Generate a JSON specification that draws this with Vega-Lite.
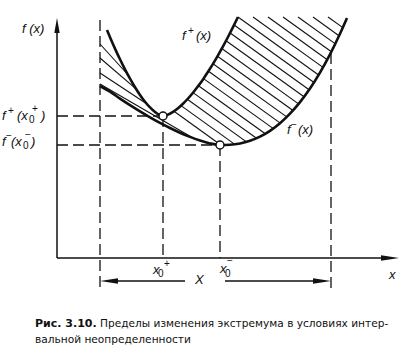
{
  "$schema": "https://vega.github.io/schema/vega-lite/v6.json",
  "width": 406,
  "height": 357,
  "padding": 0,
  "autosize": {"type": "none"},
  "background": "white",
  "config": {"view": {"stroke": null}},
  "encoding": {
    "x": {"field": "x", "type": "quantitative", "scale": {"domain": [-5.7, 34.9], "nice": false, "zero": false}, "axis": null},
    "y": {"field": "y", "type": "quantitative", "scale": {"domain": [-9.9, 25.8], "nice": false, "zero": false}, "axis": null}
  },
  "layer": [
    {
      "data": {"values": [
        {"x": 27.1, "y": 24.1, "x2": 28.55, "y2": 23.06},
        {"x": 25.6, "y": 24.1, "x2": 28.23, "y2": 22.2},
        {"x": 24.1, "y": 24.1, "x2": 27.84, "y2": 21.41},
        {"x": 22.6, "y": 24.1, "x2": 27.44, "y2": 20.62},
        {"x": 21.1, "y": 24.1, "x2": 27.03, "y2": 19.83},
        {"x": 19.6, "y": 24.1, "x2": 26.6, "y2": 19.06},
        {"x": 18.1, "y": 24.1, "x2": 26.16, "y2": 18.3},
        {"x": 17.71, "y": 23.3, "x2": 25.7, "y2": 17.55},
        {"x": 17.32, "y": 22.5, "x2": 25.21, "y2": 16.82},
        {"x": 16.9, "y": 21.72, "x2": 24.7, "y2": 16.13},
        {"x": 16.48, "y": 20.95, "x2": 24.15, "y2": 15.41},
        {"x": 16.05, "y": 20.18, "x2": 23.6, "y2": 14.75},
        {"x": 15.6, "y": 19.42, "x2": 22.97, "y2": 14.11},
        {"x": 15.15, "y": 18.67, "x2": 22.33, "y2": 13.49},
        {"x": 14.65, "y": 17.94, "x2": 21.6, "y2": 12.96},
        {"x": 14.15, "y": 17.23, "x2": 20.83, "y2": 12.42},
        {"x": 13.6, "y": 16.54, "x2": 19.95, "y2": 11.97},
        {"x": 13.03, "y": 15.87, "x2": 18.95, "y2": 11.61},
        {"x": 12.4, "y": 15.24, "x2": 17.75, "y2": 11.39},
        {"x": 11.7, "y": 14.67, "x2": 16.38, "y2": 11.3},
        {"x": 4.3, "y": 17.4, "x2": 13.6, "y2": 12.0},
        {"x": 4.3, "y": 18.5, "x2": 9.0, "y2": 15.4},
        {"x": 4.3, "y": 20.0, "x2": 7.9, "y2": 16.91},
        {"x": 4.3, "y": 21.4, "x2": 7.25, "y2": 18.15}
      ]},
      "mark": {"type": "rule", "color": "#111", "strokeWidth": 1.1},
      "encoding": {"x2": {"field": "x2"}, "y2": {"field": "y2"}}
    },
    {
      "data": {"values": [
        {"x": 4.3, "y": 23.8, "x2": 4.3, "y2": -3.0},
        {"x": 10.6, "y": 14.2, "x2": 10.6, "y2": 0},
        {"x": 16.3, "y": 11.3, "x2": 16.3, "y2": 0},
        {"x": 27.4, "y": 20.5, "x2": 27.4, "y2": -3.5},
        {"x": 0, "y": 14.2, "x2": 10.6, "y2": 14.2},
        {"x": 0, "y": 11.3, "x2": 16.3, "y2": 11.3}
      ]},
      "mark": {"type": "rule", "color": "#111", "strokeWidth": 1.3, "strokeDash": [11, 5]},
      "encoding": {"x2": {"field": "x2"}, "y2": {"field": "y2"}}
    },
    {
      "data": {"values": [
        {"x": 0, "y": 0, "x2": 0, "y2": 22.6},
        {"x": 0, "y": 0, "x2": 32.8, "y2": 0},
        {"x": 5.0, "y": -2.3, "x2": 12.8, "y2": -2.3},
        {"x": 16.8, "y": -2.3, "x2": 26.6, "y2": -2.3}
      ]},
      "mark": {"type": "rule", "color": "#111", "strokeWidth": 1.5},
      "encoding": {"x2": {"field": "x2"}, "y2": {"field": "y2"}}
    },
    {
      "data": {"values": [
        {"curve": "f+", "x": 5.0, "y": 22.8},
        {"curve": "f+", "x": 5.3, "y": 22.08},
        {"curve": "f+", "x": 5.8, "y": 20.94},
        {"curve": "f+", "x": 6.3, "y": 19.87},
        {"curve": "f+", "x": 6.8, "y": 18.86},
        {"curve": "f+", "x": 7.3, "y": 17.93},
        {"curve": "f+", "x": 7.8, "y": 17.08},
        {"curve": "f+", "x": 8.3, "y": 16.31},
        {"curve": "f+", "x": 8.8, "y": 15.63},
        {"curve": "f+", "x": 9.3, "y": 15.06},
        {"curve": "f+", "x": 9.8, "y": 14.6},
        {"curve": "f+", "x": 10.3, "y": 14.28},
        {"curve": "f+", "x": 10.6, "y": 14.2},
        {"curve": "f+", "x": 11.1, "y": 14.34},
        {"curve": "f+", "x": 11.6, "y": 14.61},
        {"curve": "f+", "x": 12.1, "y": 14.98},
        {"curve": "f+", "x": 12.6, "y": 15.43},
        {"curve": "f+", "x": 13.1, "y": 15.95},
        {"curve": "f+", "x": 13.6, "y": 16.53},
        {"curve": "f+", "x": 14.1, "y": 17.17},
        {"curve": "f+", "x": 14.6, "y": 17.86},
        {"curve": "f+", "x": 15.1, "y": 18.62},
        {"curve": "f+", "x": 15.6, "y": 19.42},
        {"curve": "f+", "x": 16.1, "y": 20.27},
        {"curve": "f+", "x": 16.6, "y": 21.16},
        {"curve": "f+", "x": 17.1, "y": 22.1},
        {"curve": "f+", "x": 17.6, "y": 23.08},
        {"curve": "f+", "x": 18.1, "y": 24.1},
        {"curve": "f-", "x": 4.3, "y": 17.2},
        {"curve": "f-", "x": 5.3, "y": 16.63},
        {"curve": "f-", "x": 6.3, "y": 15.94},
        {"curve": "f-", "x": 7.3, "y": 15.28},
        {"curve": "f-", "x": 8.3, "y": 14.66},
        {"curve": "f-", "x": 9.3, "y": 14.07},
        {"curve": "f-", "x": 10.3, "y": 13.51},
        {"curve": "f-", "x": 11.3, "y": 13.0},
        {"curve": "f-", "x": 12.3, "y": 12.53},
        {"curve": "f-", "x": 13.3, "y": 12.11},
        {"curve": "f-", "x": 14.3, "y": 11.75},
        {"curve": "f-", "x": 15.3, "y": 11.46},
        {"curve": "f-", "x": 16.3, "y": 11.3},
        {"curve": "f-", "x": 17.3, "y": 11.33},
        {"curve": "f-", "x": 18.3, "y": 11.46},
        {"curve": "f-", "x": 19.3, "y": 11.73},
        {"curve": "f-", "x": 20.3, "y": 12.14},
        {"curve": "f-", "x": 21.3, "y": 12.72},
        {"curve": "f-", "x": 22.3, "y": 13.48},
        {"curve": "f-", "x": 23.3, "y": 14.43},
        {"curve": "f-", "x": 24.3, "y": 15.59},
        {"curve": "f-", "x": 25.3, "y": 16.95},
        {"curve": "f-", "x": 26.3, "y": 18.54},
        {"curve": "f-", "x": 27.3, "y": 20.36},
        {"curve": "f-", "x": 28.3, "y": 22.42},
        {"curve": "f-", "x": 29.0, "y": 24.0}
      ]},
      "mark": {"type": "line", "color": "#111", "strokeWidth": 2.6, "interpolate": "monotone"},
      "encoding": {"detail": {"field": "curve"}}
    },
    {
      "data": {"values": [{"x": 0, "y": 23.25}]},
      "mark": {"type": "point", "shape": "M0,-1L0.36,1L-0.36,1Z", "filled": true, "color": "#111", "opacity": 1, "size": 225, "strokeWidth": 0}
    },
    {
      "data": {"values": [{"x": 33.3, "y": 0}, {"x": 26.5, "y": -2.3}]},
      "mark": {"type": "point", "shape": "M1,0L-1,0.3L-1,-0.3Z", "filled": true, "color": "#111", "opacity": 1, "size": 324, "strokeWidth": 0}
    },
    {
      "data": {"values": [{"x": 5.2, "y": -2.3}]},
      "mark": {"type": "point", "shape": "M-1,0L1,0.3L1,-0.3Z", "filled": true, "color": "#111", "opacity": 1, "size": 324, "strokeWidth": 0}
    },
    {
      "data": {"values": [{"x": 10.6, "y": 14.2}, {"x": 16.3, "y": 11.3}]},
      "mark": {"type": "point", "shape": "circle", "filled": true, "fill": "white", "stroke": "#111", "strokeWidth": 1.5, "opacity": 1, "size": 64}
    },
    {
      "data": {"values": [
        {"x": -3.5, "y": 22.5, "t": "f (x)"},
        {"x": -5.5, "y": 13.8, "t": "f"},
        {"x": -4.0, "y": 13.8, "t": "(x"},
        {"x": -1.6, "y": 13.8, "t": ")"},
        {"x": -5.5, "y": 11.2, "t": "f"},
        {"x": -4.6, "y": 11.2, "t": "(x"},
        {"x": -2.6, "y": 11.2, "t": ")"},
        {"x": 12.5, "y": 21.8, "t": "f"},
        {"x": 13.9, "y": 21.8, "t": "(x)"},
        {"x": 23.0, "y": 12.4, "t": "f"},
        {"x": 24.1, "y": 12.4, "t": "(x)"},
        {"x": 9.6, "y": -1.6, "t": "x"},
        {"x": 16.3, "y": -1.5, "t": "x"},
        {"x": 13.8, "y": -2.6, "t": "X"},
        {"x": 33.2, "y": -2.1, "t": "x"}
      ]},
      "mark": {"type": "text", "align": "left", "baseline": "alphabetic", "font": "Liberation Sans", "fontStyle": "italic", "fontSize": 13, "color": "#111"},
      "encoding": {"text": {"field": "t"}}
    },
    {
      "data": {"values": [
        {"x": -4.9, "y": 14.4, "t": "+"},
        {"x": -2.8, "y": 13.5, "t": "0"},
        {"x": -2.5, "y": 14.6, "t": "+"},
        {"x": -5.1, "y": 11.9, "t": "−"},
        {"x": -3.4, "y": 10.9, "t": "0"},
        {"x": -3.2, "y": 12.0, "t": "−"},
        {"x": 13.1, "y": 22.4, "t": "+"},
        {"x": 23.4, "y": 13.0, "t": "−"},
        {"x": 10.1, "y": -1.9, "t": "0"},
        {"x": 10.7, "y": -0.9, "t": "+"},
        {"x": 16.8, "y": -1.9, "t": "0"},
        {"x": 17.0, "y": -0.6, "t": "−"}
      ]},
      "mark": {"type": "text", "align": "left", "baseline": "alphabetic", "font": "Liberation Sans", "fontSize": 10, "color": "#111"},
      "encoding": {"text": {"field": "t"}}
    },
    {
      "data": {"values": [{"x": -2.2, "y": -6.9, "t": "Рис. 3.10."}]},
      "mark": {"type": "text", "align": "left", "baseline": "alphabetic", "font": "DejaVu Sans", "fontWeight": "bold", "fontSize": 11, "color": "#111"},
      "encoding": {"text": {"field": "t"}}
    },
    {
      "data": {"values": [
        {"x": 4.3, "y": -6.9, "t": "Пределы изменения экстремума в условиях интер-"},
        {"x": -2.2, "y": -8.5, "t": "вальной неопределенности"}
      ]},
      "mark": {"type": "text", "align": "left", "baseline": "alphabetic", "font": "DejaVu Sans", "fontSize": 10.6, "color": "#111"},
      "encoding": {"text": {"field": "t"}}
    }
  ]
}
